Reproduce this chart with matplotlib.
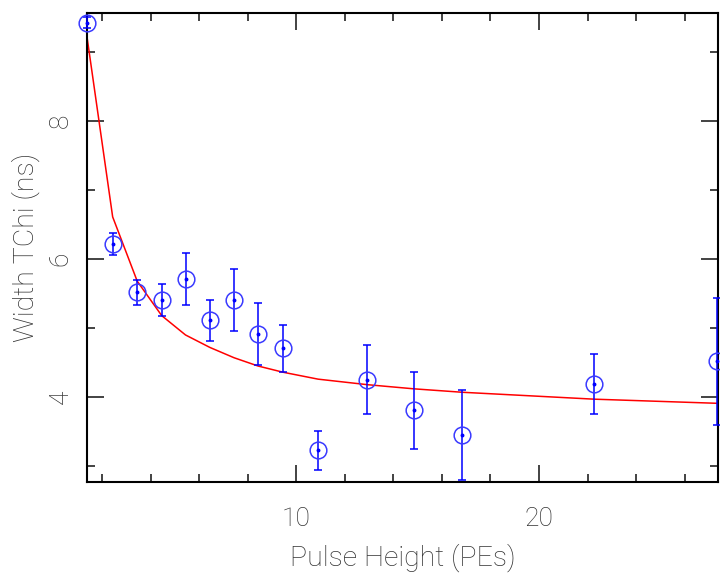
import matplotlib
matplotlib.use('Agg')
import matplotlib.pyplot as plt
from matplotlib.ticker import MultipleLocator

plt.rcParams['font.family'] = ['Roboto', 'Liberation Sans', 'DejaVu Sans']
plt.rcParams['font.weight'] = 'light'
plt.rcParams['axes.labelweight'] = 'light'

# Measured points: pulse height bins, fitted width and its error
pulse_height = [1.37, 2.44, 3.45, 4.46, 5.44, 6.44, 7.44, 8.43, 9.46, 10.9,
                12.93, 14.84, 16.84, 22.27, 27.35]
width_tchi = [9.42, 6.22, 5.52, 5.41, 5.71, 5.11, 5.41, 4.91, 4.71, 3.23,
              4.25, 3.81, 3.45, 4.19, 4.52]
width_err = [0.08, 0.16, 0.18, 0.23, 0.38, 0.30, 0.45, 0.45, 0.34, 0.28,
             0.50, 0.56, 0.65, 0.43, 0.92]

# Fit curve, evaluated at the same pulse heights
fit_width = [9.25, 6.61, 5.68, 5.18, 4.90, 4.72, 4.57, 4.45, 4.36, 4.26,
             4.18, 4.12, 4.07, 3.97, 3.91]

text_color = '#333333'

fig = plt.figure(figsize=(7.2, 5.75), dpi=100)
ax = fig.add_axes([0.1204, 0.1617, 0.8768, 0.8165])

ax.plot(pulse_height, fit_width, color='red', linewidth=1.1, zorder=2)

ax.errorbar(pulse_height, width_tchi, yerr=width_err, fmt='none',
            ecolor='blue', elinewidth=1.1, capsize=2.6, capthick=1.1,
            zorder=3, clip_on=False)
ax.plot(pulse_height, width_tchi, 'o', markersize=12, markerfacecolor='none',
        markeredgecolor='#3a3aff', markeredgewidth=1.1, zorder=4, clip_on=False)
ax.plot(pulse_height, width_tchi, 'o', markersize=1.8, color='blue',
        zorder=5, clip_on=False)

ax.set_xlim(1.37, 27.37)
ax.set_ylim(2.77, 9.57)

ax.xaxis.set_major_locator(MultipleLocator(10))
ax.xaxis.set_minor_locator(MultipleLocator(2))
ax.yaxis.set_major_locator(MultipleLocator(2))
ax.yaxis.set_minor_locator(MultipleLocator(1))

ax.tick_params(which='both', direction='in', top=True, right=True,
               color='#222222', width=1.2)
ax.tick_params(which='major', length=12)
ax.tick_params(which='minor', length=6)
ax.tick_params(axis='x', which='major', pad=18, labelsize=19, labelcolor=text_color)
ax.tick_params(axis='y', which='major', pad=10, labelsize=19, labelcolor=text_color)
for lbl in ax.get_yticklabels():
    lbl.set_rotation(90)
    lbl.set_va('center')

for s in ax.spines.values():
    s.set_linewidth(1.5)
    s.set_color('black')

ax.set_xlabel('Pulse Height (PEs)', fontsize=20.5, color=text_color, labelpad=9)
ax.set_ylabel('Width TChi (ns)', fontsize=20.5, color=text_color, labelpad=6)

fig.savefig('out.png', dpi=100)
